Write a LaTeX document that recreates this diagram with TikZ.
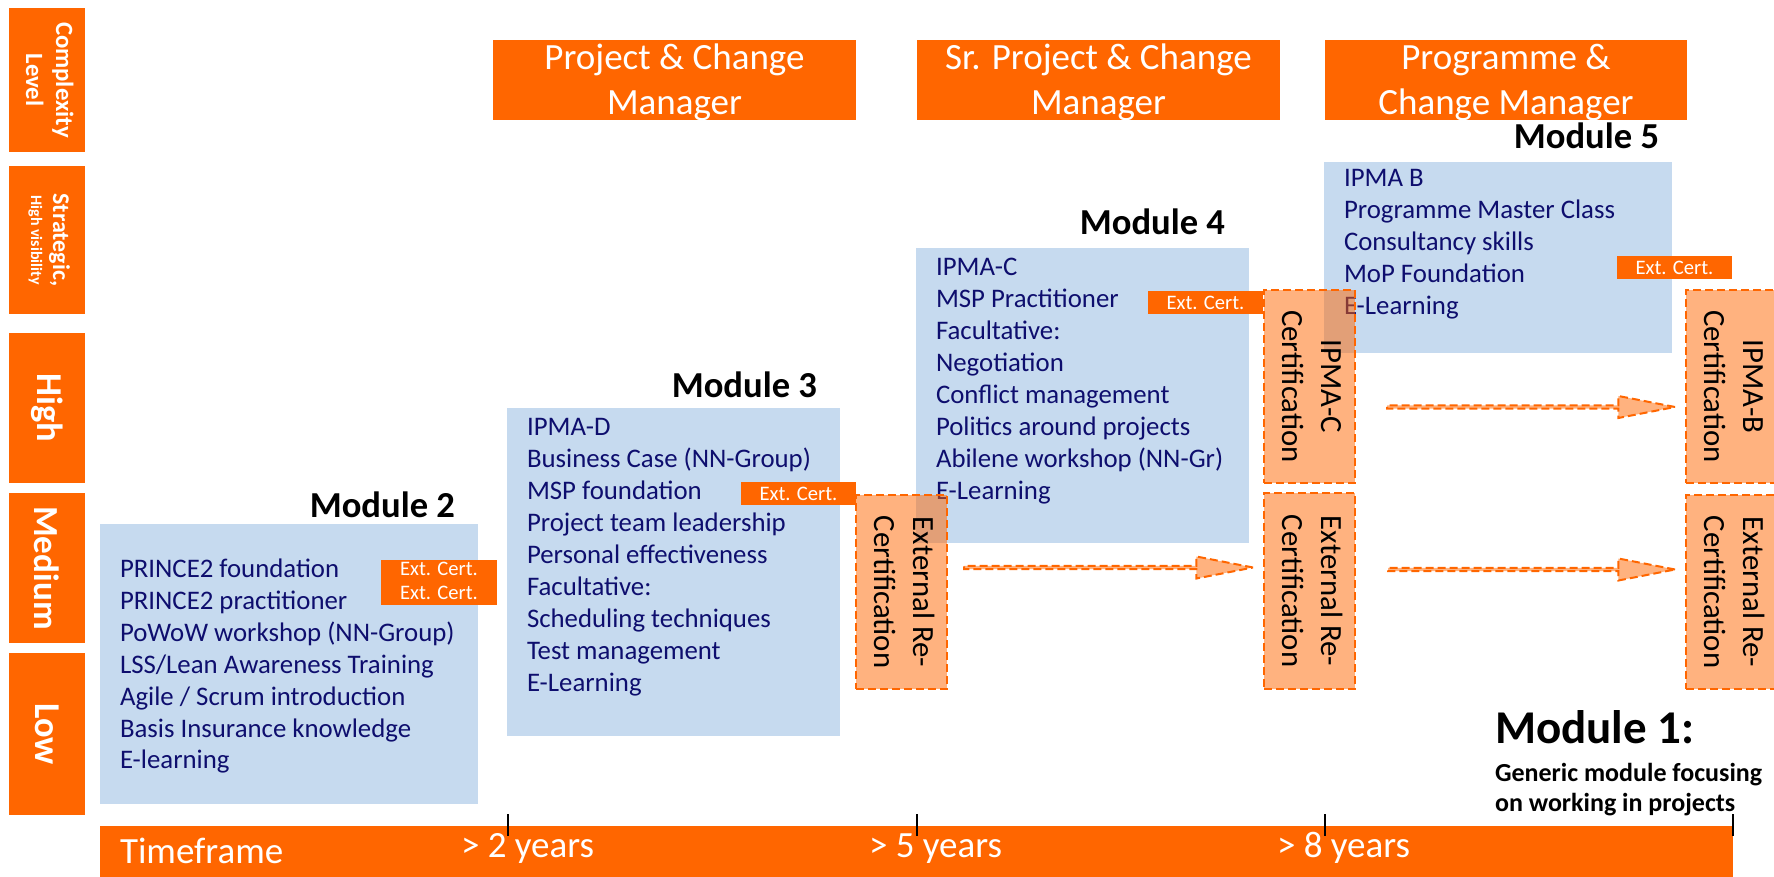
\documentclass[tikz,border=0pt]{standalone}
\usepackage{fontspec}
\setmainfont{Carlito}
\usetikzlibrary{fit,calc,shapes.arrows}
\definecolor{orng}{RGB}{255,102,0}
\definecolor{paleblue}{RGB}{198,218,239}
\definecolor{navytext}{RGB}{14,14,110}

\begin{document}
\begin{tikzpicture}[x=0.5pt,y=-0.5pt,
  every node/.style={inner sep=0pt, outer sep=0pt},
  solidbox/.style={fill=orng, draw=none},
  bluebox/.style={fill=paleblue, draw=none},
  certbox/.style={fill=orng, fill opacity=0.5, draw=orng, draw opacity=1,
    line width=1pt, dash pattern=on 4pt off 2pt},
  blockarrow/.style={single arrow, fill=orng, fill opacity=0.5, draw=orng,
    draw opacity=1, line width=1pt, dash pattern=on 4pt off 2pt,
    minimum width=11pt, single arrow head extend=3pt,
    single arrow tip angle=22},
  sidelabel/.style={rotate=-90, text=white},
  headtext/.style={anchor=base, text=white, font=\fontsize{18.5}{22.5}\selectfont},
  listtext/.style={anchor=base west, text=navytext, font=\fontsize{13.4}{16}\selectfont},
  modlabel/.style={anchor=base east, font=\fontsize{18.3}{22}\selectfont\bfseries},
  tagtext/.style={text=white, font=\fontsize{10.3}{12}\selectfont},
  certtext/.style={rotate=-90, font=\fontsize{15.4}{19.5}\selectfont},
  timetext/.style={anchor=base west, text=white, font=\fontsize{18.5}{21}\selectfont},
  tick/.style={draw=black, line width=0.6pt}]
\useasboundingbox (0,0) rectangle (1774,877);

% complexity scale on the left
\node[solidbox, fit={(9,8) (85,152)}] (cx) {};
\node[sidelabel, font=\fontsize{12.4}{15}\selectfont\bfseries] at (cx.center)
  {\begin{tabular}{@{}c@{}}Complexity\\Level\end{tabular}};
\node[solidbox, fit={(9,166) (85,314)}] (st) {};
\node[sidelabel, font=\fontsize{12}{12}\selectfont\bfseries] at (st.center)
  {\begin{tabular}{@{}c@{}}Strategic,\\[-1pt]{\fontsize{8}{9}\selectfont High visibility}\end{tabular}};
\node[solidbox, fit={(9,333) (85,483)}] (hi) {};
\node[sidelabel, font=\fontsize{18.2}{21}\selectfont\bfseries] at (hi.center) {High};
\node[solidbox, fit={(9,493) (85,643)}] (md) {};
\node[sidelabel, font=\fontsize{17.6}{21}\selectfont\bfseries] at (md.center) {Medium};
\node[solidbox, fit={(9,653) (85,815)}] (lo) {};
\node[sidelabel, font=\fontsize{18.2}{21}\selectfont\bfseries] at (lo.center) {Low};

% role headers
\node[solidbox, fit={(493,40) (856,120)}] (h1) {};
\node[headtext] at (674.5,70) {\begin{tabular}[t]{@{}c@{}}Project \& Change\\Manager\end{tabular}};
\node[solidbox, fit={(917,40) (1280,120)}] (h2) {};
\node[headtext] at (1098.5,70) {\begin{tabular}[t]{@{}c@{}}Sr. Project \& Change\\Manager\end{tabular}};
\node[solidbox, fit={(1325,40) (1687,120)}] (h3) {};
\node[headtext] at (1506,70) {\begin{tabular}[t]{@{}c@{}}Programme \&\\Change Manager\end{tabular}};

% module boxes
\node[bluebox, fit={(100,524) (478,804)}] (m2) {};
\node[bluebox, fit={(507,408) (840,736)}] (m3) {};
\node[bluebox, fit={(916,248) (1249,543)}] (m4) {};
\node[bluebox, fit={(1324,162) (1672,353)}] (m5) {};

\node[listtext] (l2) at (120,577) {\begin{tabular}[t]{@{}l@{}}
  PRINCE2 foundation\\ PRINCE2 practitioner\\ PoWoW workshop (NN-Group)\\
  LSS/Lean Awareness Training\\ Agile / Scrum introduction\\
  Basis Insurance knowledge\\ E-learning\end{tabular}};
\node[listtext] (l3) at (527,436) {\begin{tabular}[t]{@{}l@{}}
  IPMA-D\\ Business Case (NN-Group)\\ MSP foundation\\ Project team leadership\\
  Personal effectiveness\\ Facultative:\\ Scheduling techniques\\
  Test management\\ E-Learning\end{tabular}};
\node[listtext] (l4) at (936,276) {\begin{tabular}[t]{@{}l@{}}
  IPMA-C\\ MSP Practitioner\\ Facultative:\\ Negotiation\\ Conflict management\\
  Politics around projects\\ Abilene workshop (NN-Gr)\\ E-Learning\end{tabular}};
\node[listtext] (l5) at (1344,187) {\begin{tabular}[t]{@{}l@{}}
  IPMA B\\ Programme Master Class\\ Consultancy skills\\ MoP Foundation\\
  E-Learning\end{tabular}};

\node[modlabel] (t2) at (455,517) {Module 2};
\node[modlabel] (t3) at (817,398) {Module 3};
\node[modlabel] (t4) at (1225,235) {Module 4};
\node[modlabel] (t5) at (1659,149) {Module 5};

% external certificate tags
\node[solidbox, fit={(381,560) (497,605)}] (e2) {};
\node[tagtext] at (e2.center) {\begin{tabular}{@{}c@{}}Ext. Cert.\\Ext. Cert.\end{tabular}};
\node[solidbox, fit={(741,482) (856,505)}] (e3) {};
\node[tagtext] at (e3.center) {Ext. Cert.};
\node[solidbox, fit={(1148,291) (1263,314)}] (e4) {};
\node[tagtext] at (e4.center) {Ext. Cert.};
\node[solidbox, fit={(1617,256) (1732,279)}] (e5) {};
\node[tagtext] at (e5.center) {Ext. Cert.};

% certification blocks
\node[certbox, fit={(856,495) (947,689)}] (r1) {};
\node[certtext] at (r1.center) {\begin{tabular}{@{}c@{}}External Re-\\Certification\end{tabular}};
\node[certbox, fit={(1264,290) (1355,483)}] (ic) {};
\node[certtext] at (ic.center) {\begin{tabular}{@{}c@{}}IPMA-C\\Certification\end{tabular}};
\node[certbox, fit={(1264,493) (1355,689)}] (r2) {};
\node[certtext] at (r2.center) {\begin{tabular}{@{}c@{}}External Re-\\Certification\end{tabular}};
\node[certbox, fit={(1686,290) (1777,483)}] (ib) {};
\node[certtext] at (ib.center) {\begin{tabular}{@{}c@{}}IPMA-B\\Certification\end{tabular}};
\node[certbox, fit={(1686,495) (1777,689)}] (r3) {};
\node[certtext] at (r3.center) {\begin{tabular}{@{}c@{}}External Re-\\Certification\end{tabular}};

% progression arrows
\node[blockarrow, minimum height=144.5pt] (a1) at ($(r1.east)!0.5!(r2.west)+(-1,-24)$) {};
\node[blockarrow, minimum height=143.5pt] (a2) at ($(r2.east)!0.5!(r3.west)+(7,-22)$) {};
\node[blockarrow, minimum height=144pt] (a3) at ($(ic.east)!0.5!(ib.west)+(6.5,20.5)$) {};

% time axis
\node[solidbox, fit={(100,826) (1733,877)}] (tf) {};
\node[timetext] at (120,863) {Timeframe};
\node[timetext] at (461,857) {> 2 years};
\node[timetext] at (869,857) {> 5 years};
\node[timetext] at (1277,857) {> 8 years};
\draw[tick] (508,814) -- (508,836);
\draw[tick] (917,814) -- (917,836);
\draw[tick] (1325,814) -- (1325,836);
\draw[tick] (1733,814) -- (1733,836);

% generic module note
\node[anchor=base west, font=\fontsize{23.5}{26}\selectfont\bfseries] (t1) at (1495,743) {Module 1:};
\node[anchor=base west, font=\fontsize{13}{15}\selectfont\bfseries] (n1) at (1495,781)
  {\begin{tabular}[t]{@{}l@{}}Generic module focusing\\on working in projects\end{tabular}};
\end{tikzpicture}
\end{document}
